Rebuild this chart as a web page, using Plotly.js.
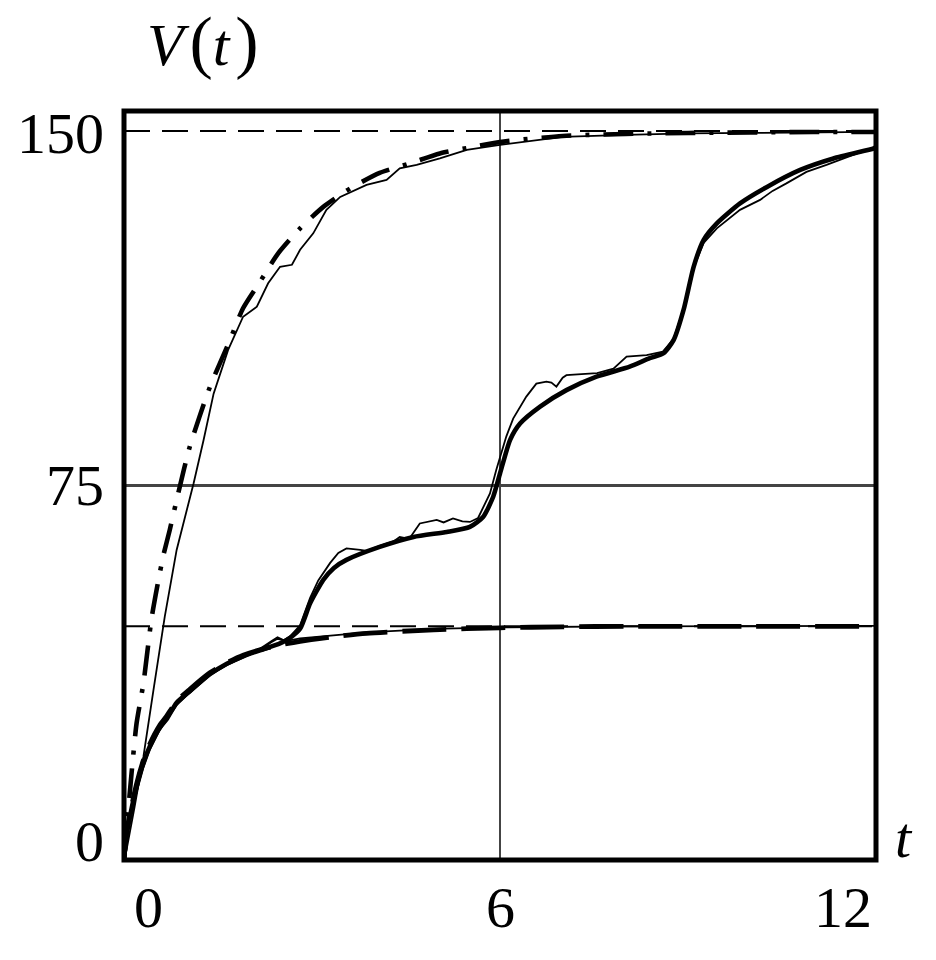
<!DOCTYPE html>
<html>
<head>
<meta charset="utf-8">
<script src="https://cdn.plot.ly/plotly-3.0.1.min.js"></script>
<style>html,body{margin:0;padding:0;background:#fff;}#chart{width:936px;height:960px;}</style>
</head>
<body>
<div id="chart"></div>
<script>
// ---- data ----
const xTickVals = [0, 6, 12];
const xTickText = ['0', '6', '12'];
const yTickVals = [0, 75, 150];
const yTickText = ['0', '75', '150'];

const asymT = [0, 12];
const upperLevel = [146, 146];
const lowerLevel = [46.8, 46.8];

// upper group: thick dash-dot curve
const upDashT = [0, 0.04, 0.12, 0.2, 0.31, 0.44, 0.55, 0.63, 0.73, 0.87, 1.05, 1.37, 1.69, 1.9, 2.17, 2.46, 2.81, 3.18, 3.61, 4.08, 4.56, 5.04, 5.57, 6, 7, 8, 9, 10, 11, 12];
const upDashV = [0, 6, 17.3, 27.3, 35.4, 48.4, 56.1, 61.1, 66.1, 73.7, 82.8, 94.7, 104.1, 110.5, 115.8, 121.5, 126.5, 130.8, 134.5, 137.6, 139.5, 141.5, 142.8, 143.8, 145, 145.4, 145.6, 145.7, 145.8, 145.8];

// upper group: thin wiggly curve
const upThinT = [0, 0.04, 0.17, 0.31, 0.47, 0.65, 0.84, 1.11, 1.27, 1.43, 1.66, 1.9, 2.12, 2.3, 2.49, 2.68, 2.81, 3.02, 3.23, 3.45, 3.87, 4.19, 4.4, 4.67, 5.04, 5.47, 6, 7, 8, 9, 10, 11, 12];
const upThinV = [0, 2, 10.7, 20.7, 34, 48.7, 62.1, 75.4, 84.1, 93.4, 102.1, 108.8, 110.8, 115.5, 118.8, 119.2, 122.2, 125.5, 130.2, 132.8, 135.2, 136.2, 138.5, 139.2, 140.5, 142.2, 143.2, 144.8, 145.2, 145.5, 145.6, 145.7, 145.8];

// lower group: thick dashed curve
const lowDashT = [0, 0.04, 0.1, 0.2, 0.31, 0.41, 0.57, 0.68, 0.84, 1.05, 1.37, 1.64, 1.9, 2.17, 2.5, 2.81, 3.34, 3.87, 4.94, 6, 7, 8, 10, 12];
const lowDashV = [0, 5.5, 9.5, 15.2, 20, 23.2, 27, 28.8, 31.8, 34.2, 37.5, 39.5, 41, 42.1, 43.1, 43.8, 44.7, 45.4, 46.1, 46.5, 46.7, 46.8, 46.8, 46.8];

// lower group: thin curve
const lowThinT = [0, 0.04, 0.1, 0.2, 0.31, 0.41, 0.57, 0.84, 1.05, 1.37, 1.64, 1.9, 2.17, 2.35, 2.45, 2.6, 2.81, 3.34, 3.87, 4.94, 6, 8, 12];
const lowThinV = [0, 4, 8, 13.5, 18.5, 22, 26, 31, 33.5, 37, 39, 40.6, 42.1, 43.6, 44.3, 43.9, 44.4, 45, 45.6, 46.3, 46.6, 46.8, 46.9];

// stepped group: thick curve
const stepThickT = [0, 0.04, 0.1, 0.2, 0.31, 0.41, 0.57, 0.68, 0.84, 1.05, 1.37, 1.64, 1.9, 2.17, 2.49, 2.65, 2.81, 2.97, 3.18, 3.35, 3.55, 4.08, 4.62, 5.15, 5.52, 5.73, 5.89, 6.0, 6.16, 6.32, 6.64, 7.06, 7.54, 8.07, 8.39, 8.61, 8.77, 8.93, 9.09, 9.25, 9.46, 9.83, 10.26, 10.79, 11.32, 11.96, 12];
const stepThickV = [0, 5, 9, 14.7, 19.5, 22.7, 26.5, 28.2, 31.5, 33.8, 37.2, 39.3, 40.8, 42, 43.4, 44.5, 46.3, 51.4, 56.1, 58.5, 60.1, 62.7, 64.7, 65.7, 66.7, 68.7, 72.7, 77.4, 84.1, 87.4, 90.8, 94.1, 96.8, 98.8, 100.5, 101.5, 104.1, 110.2, 118.8, 124.2, 127.5, 131.5, 134.8, 138.2, 140.5, 142.5, 142.7];

// stepped group: thin wiggly curve
const stepThinT = [0, 0.04, 0.1, 0.2, 0.31, 0.41, 0.57, 0.84, 1.05, 1.37, 1.64, 1.9, 2.17, 2.35, 2.45, 2.55, 2.65, 2.81, 2.97, 3.1, 3.29, 3.42, 3.55, 3.77, 3.87, 4.08, 4.3, 4.4, 4.55, 4.72, 4.85, 4.99, 5.1, 5.25, 5.4, 5.52, 5.65, 5.84, 5.94, 6.1, 6.21, 6.42, 6.58, 6.74, 6.82, 6.9, 7.0, 7.06, 7.3, 7.55, 7.81, 8.02, 8.34, 8.6, 8.77, 8.93, 9.09, 9.25, 9.46, 9.65, 9.83, 10.15, 10.35, 10.57, 10.89, 11.21, 11.43, 11.7, 12];
const stepThinV = [0, 4.5, 8.5, 14, 19, 22.3, 26.2, 31.2, 33.6, 37.1, 39.1, 40.7, 42.3, 43.8, 44.6, 44, 44.8, 47, 52.5, 56, 59.5, 61.5, 62.4, 62.1, 61.9, 62.9, 63.8, 64.7, 64.3, 67.4, 67.8, 68.1, 67.6, 68.4, 67.8, 67.7, 68.5, 73.4, 78.1, 84.8, 88.4, 92.8, 95.4, 95.8, 95.6, 94.8, 96.6, 97.1, 97.3, 97.5, 98.4, 100.8, 101.1, 101.8, 104.4, 110.4, 118.6, 123.6, 126.5, 128.5, 130.2, 132.2, 134.0, 135.5, 137.8, 139.2, 140.2, 141.5, 142.6];

// ---- traces ----
const thinW = 1.8, thickW = 4.6;
const traces = [
  {x: asymT, y: upperLevel, mode: 'lines', line: {color: '#000', width: 2, dash: '26px,12px'}},
  {x: asymT, y: lowerLevel, mode: 'lines', line: {color: '#000', width: 2, dash: '26px,12px'}},
  {x: upThinT, y: upThinV, mode: 'lines', line: {color: '#000', width: thinW}},
  {x: upDashT, y: upDashV, mode: 'lines', line: {color: '#000', width: 4.6, dash: '30px,14px,4px,14px', shape: 'spline', smoothing: 0.6}},
  {x: lowThinT, y: lowThinV, mode: 'lines', line: {color: '#000', width: thinW}},
  {x: lowDashT, y: lowDashV, mode: 'lines', line: {color: '#000', width: 4.8, dash: '44px,15px', shape: 'spline', smoothing: 0.6}},
  {x: stepThinT, y: stepThinV, mode: 'lines', line: {color: '#000', width: thinW}},
  {x: stepThickT, y: stepThickV, mode: 'lines', line: {color: '#000', width: thickW, shape: 'spline', smoothing: 0.6}}
];

// ---- tick labels as annotations (edge labels pulled inside, as in the original) ----
const fontFam = '"Liberation Serif", "Times New Roman", serif';
const annotations = [];
xTickVals.forEach((v, i) => {
  let xanchor = 'center', xshift = 0;
  if (i === 0) { xanchor = 'left'; xshift = 8; }
  if (i === xTickVals.length - 1) { xanchor = 'right'; xshift = -2; }
  annotations.push({x: v, xref: 'x', y: 0, yref: 'paper', yanchor: 'middle', yshift: -47,
    xanchor: xanchor, xshift: xshift, text: xTickText[i], showarrow: false,
    font: {family: fontFam, size: 58, color: '#000'}});
});
yTickVals.forEach((v, i) => {
  let yshift = 0;
  if (i === 0) yshift = 19;
  if (i === yTickVals.length - 1) yshift = -22;
  annotations.push({x: 0, xref: 'paper', xanchor: 'right', xshift: -18, y: v, yref: 'y',
    yanchor: 'middle', yshift: yshift, text: yTickText[i], showarrow: false,
    font: {family: fontFam, size: 58, color: '#000'}});
});
// axis titles
annotations.push({x: 0.105, xref: 'paper', y: 1, yref: 'paper', yanchor: 'middle', yshift: 70,
  xanchor: 'center', showarrow: false,
  text: '<i>V</i><span style="font-size:70px">\u200a(</span><i>t</i><span style="font-size:70px">\u200a)</span>',
  font: {family: fontFam, size: 60, color: '#000'}});
annotations.push({x: 1, xref: 'paper', xanchor: 'left', xshift: 17, y: 0, yref: 'paper',
  yanchor: 'bottom', yshift: -12, showarrow: false, text: '<i>t</i>',
  font: {family: fontFam, size: 58, color: '#000'}});

const layout = {
  width: 936, height: 960,
  margin: {l: 124, r: 60, t: 111, b: 100, pad: 0},
  paper_bgcolor: '#fff', plot_bgcolor: '#fff',
  showlegend: false,
  xaxis: {range: [0, 12], tickvals: xTickVals, showticklabels: false, ticks: '',
    showgrid: true, gridcolor: '#444', gridwidth: 2.4, zeroline: false, showline: false},
  yaxis: {range: [0, 150], tickvals: yTickVals, showticklabels: false, ticks: '',
    showgrid: true, gridcolor: '#444', gridwidth: 2.4, zeroline: false, showline: false},
  shapes: [{type: 'rect', xref: 'paper', yref: 'paper', x0: 0, x1: 1, y0: 0, y1: 1,
    line: {color: '#000', width: 5}, layer: 'above'}],
  annotations: annotations
};

Plotly.newPlot('chart', traces, layout, {staticPlot: true, displayModeBar: false});
</script>
</body>
</html>
